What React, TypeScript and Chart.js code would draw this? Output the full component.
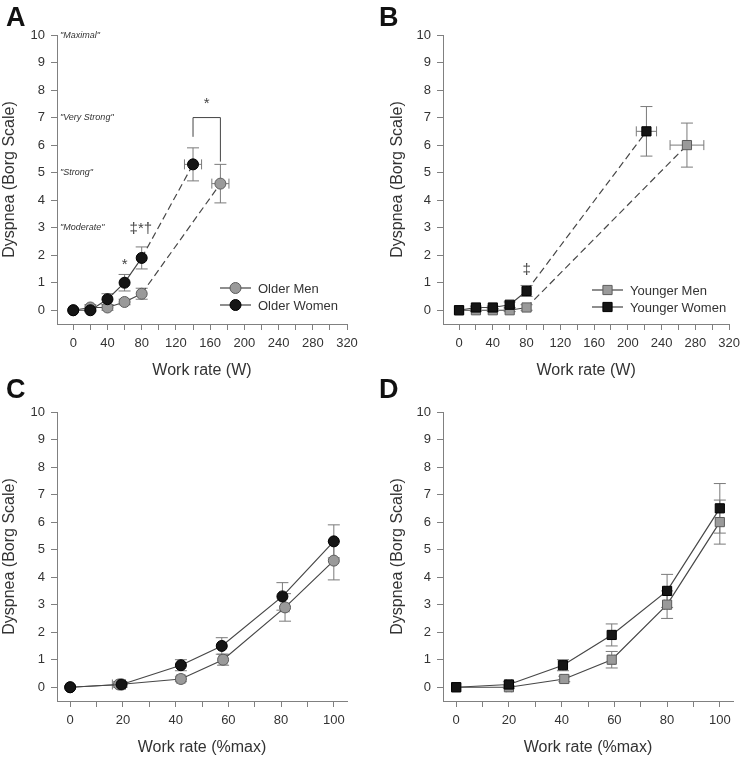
import React, { useEffect, useRef } from "react";
import { Chart, registerables } from "chart.js";
Chart.register(...registerables);

const FONT = "'Liberation Sans', Arial, Helvetica, sans-serif";
Chart.defaults.font.family = FONT;

// ---------- Panel A: older adults, absolute work rate (W) ----------
const olderMenWattsA = [0, 20, 40, 60, 80, 172];
const olderMenDyspneaA = [0, 0.1, 0.1, 0.3, 0.6, 4.6];
const olderMenYErrA = [0, 0.1, 0.1, 0.1, 0.2, 0.7];
const olderMenXErrA = [0, 0, 0, 0, 0, 10];

const olderWomenWattsA = [0, 20, 40, 60, 80, 140];
const olderWomenDyspneaA = [0, 0, 0.4, 1.0, 1.9, 5.3];
const olderWomenYErrA = [0, 0.05, 0.2, 0.3, 0.4, 0.6];
const olderWomenXErrA = [0, 0, 0, 0, 0, 10];

// ---------- Panel B: younger adults, absolute work rate (W) ----------
const youngerMenWattsB = [0, 20, 40, 60, 80, 270];
const youngerMenDyspneaB = [0, 0, 0, 0, 0.1, 6.0];
const youngerMenYErrB = [0, 0.05, 0.05, 0.05, 0.1, 0.8];
const youngerMenXErrB = [0, 0, 0, 0, 0, 20];

const youngerWomenWattsB = [0, 20, 40, 60, 80, 222];
const youngerWomenDyspneaB = [0, 0.1, 0.1, 0.2, 0.7, 6.5];
const youngerWomenYErrB = [0, 0.05, 0.05, 0.1, 0.2, 0.9];
const youngerWomenXErrB = [0, 0, 0, 0, 0, 12];

// ---------- Panel C: older adults, relative work rate (%max) ----------
const olderMenPctC = [0, 18.5, 42, 58, 81.5, 100];
const olderMenDyspneaC = [0, 0.1, 0.3, 1.0, 2.9, 4.6];
const olderMenYErrC = [0, 0.1, 0.1, 0.2, 0.5, 0.7];
const olderMenXErrC = [0, 2.5, 1.5, 1.5, 1.5, 0];

const olderWomenPctC = [0, 19.5, 42, 57.5, 80.5, 100];
const olderWomenDyspneaC = [0, 0.1, 0.8, 1.5, 3.3, 5.3];
const olderWomenYErrC = [0, 0.1, 0.2, 0.3, 0.5, 0.6];
const olderWomenXErrC = [0, 1.5, 1, 1, 1, 0];

// ---------- Panel D: younger adults, relative work rate (%max) ----------
const youngerMenPctD = [0, 20, 41, 59, 80, 100];
const youngerMenDyspneaD = [0, 0, 0.3, 1.0, 3.0, 6.0];
const youngerMenYErrD = [0, 0.05, 0.1, 0.3, 0.5, 0.8];
const youngerMenXErrD = [0, 1, 1, 1, 1, 0];

const youngerWomenPctD = [0, 20, 40.5, 59, 80, 100];
const youngerWomenDyspneaD = [0, 0.1, 0.8, 1.9, 3.5, 6.5];
const youngerWomenYErrD = [0, 0.1, 0.2, 0.4, 0.6, 0.9];
const youngerWomenXErrD = [0, 1, 1, 1, 1, 0];

// ---------- Axes ----------
const borgTicks = [0, 1, 2, 3, 4, 5, 6, 7, 8, 9, 10];
const wattTicks = [0, 20, 40, 60, 80, 100, 120, 140, 160, 180, 200, 220, 240, 260, 280, 300, 320];
const pctTicks = [0, 10, 20, 30, 40, 50, 60, 70, 80, 90, 100];
const borgDescriptorValues = [10, 7, 5, 3];
const borgDescriptorLabels = ['"Maximal"', '"Very Strong"', '"Strong"', '"Moderate"'];

// ---------- Significance annotations (data coords) ----------
const annotTextA = ["*", "\u2021*\u2020", "*"];
const annotXA = [60, 79, 156];
const annotYA = [1.5, 2.8, 7.35];
const bracketXA = [140, 172];
const bracketLowA = [6.3, 5.4];
const bracketTopA = 7;
const annotTextB = ["\u2021"];
const annotXB = [80];
const annotYB = [1.3];

const GRAY = { fill: "#9a9a9a", stroke: "#5c5c5c" };
const BLACK = { fill: "#151515", stroke: "#000000" };
const AXIS = "#808080";
const TEXT = "#333333";

type Series = {
  label: string; x: number[]; y: number[]; xErr: number[]; yErr: number[];
  color: { fill: string; stroke: string }; shape: "circle" | "rect"; dashLast: boolean;
};

type Spec = {
  left: number; top: number; w: number; h: number;
  yAxisW: number; xAxisH: number; padTop: number; padRight: number; yTitlePad: number; xTitlePad: number;
  xMin: number; xMax: number; xTicks: number[]; xLabelEvery: number; xTitle: string;
  letter: string; letterY: number;
  series: Series[]; // index 0 drawn on top
  legendOrder: number[]; legendX: number; legendY: number; legendGap: number;
  descriptors: boolean;
  annot?: { text: string[]; x: number[]; y: number[] };
  bracket?: boolean;
};

const markerRadius = (shape: string) => (shape === "circle" ? 5.5 : 6.5);

function drawMarker(ctx: CanvasRenderingContext2D, shape: string, cx: number, cy: number, r: number, c: { fill: string; stroke: string }) {
  ctx.beginPath();
  if (shape === "circle") ctx.arc(cx, cy, r, 0, Math.PI * 2);
  else {
    const h = r * Math.SQRT1_2;
    ctx.rect(cx - h, cy - h, 2 * h, 2 * h);
  }
  ctx.fillStyle = c.fill;
  ctx.fill();
  ctx.lineWidth = 1;
  ctx.strokeStyle = c.stroke;
  ctx.stroke();
}

const errorBarPlugin = {
  id: "errBars",
  beforeDatasetsDraw(chart: any) {
    const { ctx } = chart;
    const xs = chart.scales.x, ys = chart.scales.y;
    ctx.save();
    ctx.strokeStyle = "#7a7a7a";
    ctx.lineWidth = 1;
    const seg = (a: number, b: number, c: number, d: number) => {
      ctx.beginPath(); ctx.moveTo(a, b); ctx.lineTo(c, d); ctx.stroke();
    };
    chart.data.datasets.forEach((ds: any) => {
      ds.data.forEach((p: any, i: number) => {
        const px = xs.getPixelForValue(p.x), py = ys.getPixelForValue(p.y);
        const ey = ds.errY[i], ex = ds.errX[i];
        if (ey > 0) {
          const t = ys.getPixelForValue(p.y + ey), b = ys.getPixelForValue(p.y - ey);
          seg(px, t, px, b); seg(px - 6, t, px + 6, t); seg(px - 6, b, px + 6, b);
        }
        if (ex > 0) {
          const l = xs.getPixelForValue(p.x - ex), r = xs.getPixelForValue(p.x + ex);
          seg(l, py, r, py); seg(l, py - 5, l, py + 5); seg(r, py - 5, r, py + 5);
        }
      });
    });
    ctx.restore();
  },
};

function decoPlugin(spec: Spec) {
  return {
    id: "deco",
    afterDraw(chart: any) {
      const { ctx, chartArea } = chart;
      const xs = chart.scales.x, ys = chart.scales.y;
      ctx.save();
      // panel letter
      ctx.fillStyle = "#111";
      ctx.font = `bold 27px ${FONT}`;
      ctx.textAlign = "left";
      ctx.textBaseline = "alphabetic";
      ctx.fillText(spec.letter, 6, spec.letterY);
      // Borg descriptors
      if (spec.descriptors) {
        ctx.font = `italic 9px ${FONT}`;
        ctx.fillStyle = TEXT;
        ctx.textBaseline = "middle";
        borgDescriptorValues.forEach((v, i) => {
          ctx.fillText(borgDescriptorLabels[i], chartArea.left + 3, ys.getPixelForValue(v));
        });
      }
      // bracket
      if (spec.bracket) {
        ctx.strokeStyle = "#444";
        ctx.lineWidth = 1;
        const x1 = xs.getPixelForValue(bracketXA[0]), x2 = xs.getPixelForValue(bracketXA[1]);
        const yt = ys.getPixelForValue(bracketTopA);
        ctx.beginPath();
        ctx.moveTo(x1, ys.getPixelForValue(bracketLowA[0]));
        ctx.lineTo(x1, yt);
        ctx.lineTo(x2, yt);
        ctx.lineTo(x2, ys.getPixelForValue(bracketLowA[1]));
        ctx.stroke();
      }
      // significance symbols
      if (spec.annot) {
        ctx.font = `15px ${FONT}`;
        ctx.fillStyle = "#444";
        ctx.textAlign = "center";
        ctx.textBaseline = "alphabetic";
        spec.annot.text.forEach((t, i) => {
          ctx.fillText(t, xs.getPixelForValue(spec.annot!.x[i]), ys.getPixelForValue(spec.annot!.y[i]));
        });
      }
      // legend
      ctx.textAlign = "left";
      ctx.textBaseline = "middle";
      ctx.font = `13px ${FONT}`;
      spec.legendOrder.forEach((si, row) => {
        const s = spec.series[si];
        const y = spec.legendY + row * spec.legendGap;
        const lx = spec.legendX;
        ctx.strokeStyle = "#444";
        ctx.lineWidth = 1.2;
        ctx.beginPath(); ctx.moveTo(lx, y); ctx.lineTo(lx + 31, y); ctx.stroke();
        drawMarker(ctx, s.shape, lx + 15.5, y, markerRadius(s.shape), s.color);
        ctx.fillStyle = TEXT;
        ctx.fillText(s.label, lx + 38, y + 1);
      });
      ctx.restore();
    },
  };
}

function buildChart(canvas: HTMLCanvasElement, spec: Spec) {
  const datasets = spec.series.map((s) => {
    const n = s.x.length;
    return {
      label: s.label,
      data: s.x.map((x, i) => ({ x, y: s.y[i] })),
      errX: s.xErr,
      errY: s.yErr,
      borderColor: "#474747",
      borderWidth: 1.2,
      pointStyle: s.shape,
      pointRadius: markerRadius(s.shape),
      pointBackgroundColor: s.color.fill,
      pointBorderColor: s.color.stroke,
      pointBorderWidth: 1,
      fill: false,
      tension: 0,
      segment: s.dashLast
        ? { borderDash: (c: any) => (c.p1DataIndex === n - 1 ? [7, 4] : undefined) }
        : undefined,
    };
  });
  return new Chart(canvas, {
    type: "line",
    data: { datasets } as any,
    plugins: [errorBarPlugin, decoPlugin(spec)],
    options: {
      responsive: false,
      animation: false,
      devicePixelRatio: 1,
      events: [],
      layout: { padding: { left: 0, right: spec.padRight, top: spec.padTop, bottom: 0 } },
      plugins: { legend: { display: false }, tooltip: { enabled: false } },
      scales: {
        x: {
          type: "linear",
          min: spec.xMin,
          max: spec.xMax,
          afterBuildTicks: (s: any) => { s.ticks = spec.xTicks.map((v) => ({ value: v })); },
          afterFit: (s: any) => { s.height = spec.xAxisH; },
          ticks: {
            autoSkip: false,
            maxRotation: 0,
            padding: 6,
            color: TEXT,
            font: { size: 13 },
            callback: (v: any) => (Number(v) % spec.xLabelEvery === 0 ? String(v) : ""),
          },
          grid: { drawOnChartArea: false, tickLength: 6, tickColor: AXIS, color: AXIS },
          border: { color: AXIS, width: 1 },
          title: { display: true, text: spec.xTitle, color: TEXT, font: { size: 16 }, padding: { top: 0, bottom: spec.xTitlePad } },
        },
        y: {
          type: "linear",
          min: -0.5,
          max: 10,
          afterBuildTicks: (s: any) => { s.ticks = borgTicks.map((v) => ({ value: v })); },
          afterFit: (s: any) => { s.width = spec.yAxisW; },
          ticks: { padding: 6, color: TEXT, font: { size: 13 } },
          grid: { drawOnChartArea: false, tickLength: 6, tickColor: AXIS, color: AXIS },
          border: { color: AXIS, width: 1 },
          title: {
            display: true, text: "Dyspnea (Borg Scale)", color: TEXT, font: { size: 16 },
            padding: { top: spec.yTitlePad, bottom: 0 },
          },
        },
      },
    } as any,
  });
}

const pairSeries = (
  menX: number[], menY: number[], menXE: number[], menYE: number[],
  womenX: number[], womenY: number[], womenXE: number[], womenYE: number[],
  men: string, women: string, shape: "circle" | "rect", dashLast: boolean
): Series[] => [
  { label: women, x: womenX, y: womenY, xErr: womenXE, yErr: womenYE, color: BLACK, shape, dashLast },
  { label: men, x: menX, y: menY, xErr: menXE, yErr: menYE, color: GRAY, shape, dashLast },
];

const specs: Spec[] = [
  {
    left: 0, top: 0, w: 373, h: 385, yAxisW: 57, xAxisH: 61, padTop: 35, padRight: 26, yTitlePad: 0, xTitlePad: 4.5,
    xMin: -19, xMax: 320, xTicks: wattTicks, xLabelEvery: 40, xTitle: "Work rate (W)",
    letter: "A", letterY: 26,
    series: pairSeries(olderMenWattsA, olderMenDyspneaA, olderMenXErrA, olderMenYErrA,
      olderWomenWattsA, olderWomenDyspneaA, olderWomenXErrA, olderWomenYErrA,
      "Older Men", "Older Women", "circle", true),
    legendOrder: [1, 0], legendX: 220, legendY: 288, legendGap: 17,
    descriptors: true,
    annot: { text: annotTextA, x: annotXA, y: annotYA },
    bracket: true,
  },
  {
    left: 373, top: 0, w: 373, h: 385, yAxisW: 70, xAxisH: 61, padTop: 35, padRight: 13, yTitlePad: 14.5, xTitlePad: 4.5,
    xMin: -19, xMax: 320, xTicks: wattTicks, xLabelEvery: 40, xTitle: "Work rate (W)",
    letter: "B", letterY: 26,
    series: pairSeries(youngerMenWattsB, youngerMenDyspneaB, youngerMenXErrB, youngerMenYErrB,
      youngerWomenWattsB, youngerWomenDyspneaB, youngerWomenXErrB, youngerWomenYErrB,
      "Younger Men", "Younger Women", "rect", true),
    legendOrder: [1, 0], legendX: 219, legendY: 290, legendGap: 17,
    descriptors: false,
    annot: { text: annotTextB, x: annotXB, y: annotYB },
  },
  {
    left: 0, top: 360, w: 373, h: 400, yAxisW: 57, xAxisH: 59, padTop: 52, padRight: 26, yTitlePad: 0, xTitlePad: 2.5,
    xMin: -5, xMax: 105, xTicks: pctTicks, xLabelEvery: 20, xTitle: "Work rate (%max)",
    letter: "C", letterY: 38,
    series: pairSeries(olderMenPctC, olderMenDyspneaC, olderMenXErrC, olderMenYErrC,
      olderWomenPctC, olderWomenDyspneaC, olderWomenXErrC, olderWomenYErrC,
      "Older Men", "Older Women", "circle", false),
    legendOrder: [], legendX: 0, legendY: 0, legendGap: 0,
    descriptors: false,
  },
  {
    left: 373, top: 360, w: 373, h: 400, yAxisW: 70, xAxisH: 59, padTop: 52, padRight: 13, yTitlePad: 14.5, xTitlePad: 2.5,
    xMin: -5, xMax: 105, xTicks: pctTicks, xLabelEvery: 20, xTitle: "Work rate (%max)",
    letter: "D", letterY: 38,
    series: pairSeries(youngerMenPctD, youngerMenDyspneaD, youngerMenXErrD, youngerMenYErrD,
      youngerWomenPctD, youngerWomenDyspneaD, youngerWomenXErrD, youngerWomenYErrD,
      "Younger Men", "Younger Women", "rect", false),
    legendOrder: [], legendX: 0, legendY: 0, legendGap: 0,
    descriptors: false,
  },
];

function Panel({ spec }: { spec: Spec }) {
  const ref = useRef<HTMLCanvasElement>(null);
  useEffect(() => {
    const chart = buildChart(ref.current as HTMLCanvasElement, spec);
    return () => chart.destroy();
  }, [spec]);
  return (
    <canvas
      ref={ref}
      width={spec.w}
      height={spec.h}
      style={{ position: "absolute", left: spec.left, top: spec.top, width: spec.w, height: spec.h }}
    />
  );
}

export default function App() {
  return (
    <div style={{ position: "absolute", left: 0, top: 0, width: 746, height: 760, background: "#ffffff" }}>
      {specs.map((s) => (
        <Panel key={s.letter} spec={s} />
      ))}
    </div>
  );
}
